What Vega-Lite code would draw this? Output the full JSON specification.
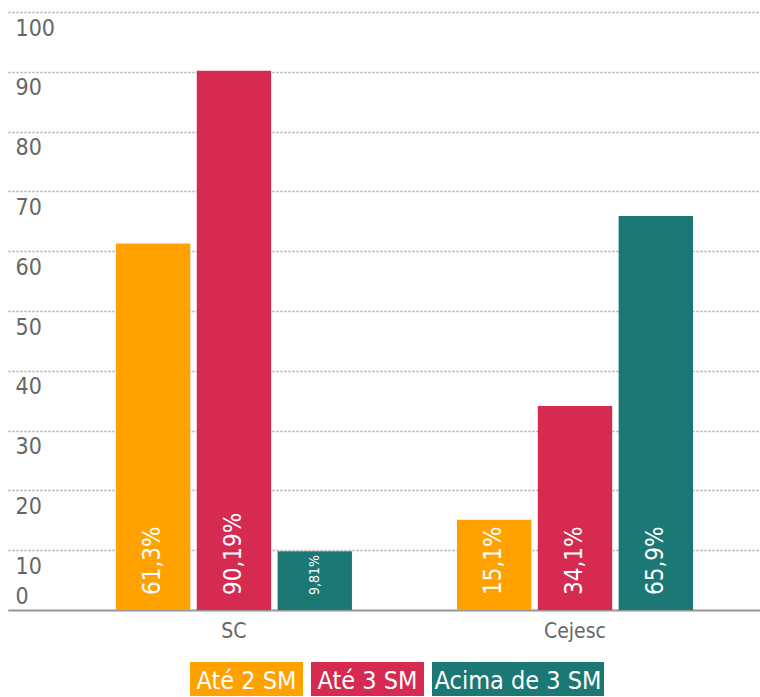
{
  "$schema": "https://vega.github.io/schema/vega-lite/v6.json",
  "background": "white",
  "padding": {"left": 8, "top": 12, "right": 0, "bottom": 0},
  "spacing": 21,
  "config": {
    "view": {"stroke": null},
    "font": "DejaVu Sans Condensed, DejaVu Sans, sans-serif",
    "concat": {"spacing": 8}
  },
  "datasets": {
    "bars": [
      {"grupo": "SC", "faixa": "Até 2 SM", "valor": 61.3, "rotulo": "61,3%"},
      {"grupo": "SC", "faixa": "Até 3 SM", "valor": 90.19, "rotulo": "90,19%"},
      {"grupo": "SC", "faixa": "Acima de 3 SM", "valor": 9.81, "rotulo": "9,81%"},
      {"grupo": "Cejesc", "faixa": "Até 2 SM", "valor": 15.1, "rotulo": "15,1%"},
      {"grupo": "Cejesc", "faixa": "Até 3 SM", "valor": 34.1, "rotulo": "34,1%"},
      {"grupo": "Cejesc", "faixa": "Acima de 3 SM", "valor": 65.9, "rotulo": "65,9%"}
    ],
    "legenda": [
      {"faixa": "Até 2 SM"},
      {"faixa": "Até 3 SM"},
      {"faixa": "Acima de 3 SM"}
    ]
  },
  "vconcat": [
    {
      "width": 752,
      "height": 598,
      "data": {"name": "bars"},
      "encoding": {
        "x": {
          "field": "grupo", "type": "nominal", "sort": ["SC", "Cejesc"],
          "scale": {"paddingInner": 0.308, "paddingOuter": 0.2565, "align": 0.617},
          "axis": {
            "title": null, "labelAngle": 0, "ticks": false, "tickSize": 0,
            "labelPadding": 10, "labelFontSize": 21, "labelColor": "#666666",
            "domain": true, "domainColor": "#9a9a9a", "domainWidth": 2, "grid": false
          }
        },
        "xOffset": {
          "field": "faixa", "type": "nominal", "sort": ["Até 2 SM", "Até 3 SM", "Acima de 3 SM"],
          "scale": {"paddingInner": 0.08, "paddingOuter": 0}
        }
      },
      "layer": [
        {
          "mark": {"type": "bar"},
          "encoding": {
            "y": {
              "field": "valor", "type": "quantitative",
              "scale": {"domain": [0, 100], "nice": false},
              "axis": {
                "title": null, "values": [0, 10, 20, 30, 40, 50, 60, 70, 80, 90, 100],
                "domain": false, "ticks": false, "tickSize": 0,
                "labelAlign": "left", "labelBaseline": "top", "labelPadding": -7,
                "labelOffset": {"condition": {"test": "datum.value === 0", "value": -25}, "value": 5},
                "labelFontSize": 23, "labelColor": "#666666",
                "grid": true, "gridColor": "#a8a8a8", "gridDash": [2, 2], "gridWidth": 1.5
              }
            },
            "color": {
              "field": "faixa", "type": "nominal",
              "scale": {"domain": ["Até 2 SM", "Até 3 SM", "Acima de 3 SM"], "range": ["#ffa200", "#d62a50", "#1c7875"]},
              "legend": null
            }
          }
        },
        {
          "mark": {"type": "text", "angle": 270, "align": "left", "baseline": "middle", "dx": 15, "color": "white"},
          "encoding": {
            "y": {"datum": 0, "type": "quantitative"},
            "text": {"field": "rotulo"},
            "size": {"condition": {"test": "datum.valor < 12", "value": 14}, "value": 24}
          }
        }
      ]
    },
    {
      "spacing": 8,
      "hconcat": [
        {
          "width": 174,
          "height": 34,
          "data": {"values": [{"vazio": 1}]},
          "mark": {"type": "point", "opacity": 0},
          "encoding": {}
        },
        {
          "width": 113,
          "height": 34,
          "data": {"name": "legenda"},
          "transform": [{"filter": "datum.faixa === 'Até 2 SM'"}],
          "layer": [
            {"mark": {"type": "bar", "color": "#ffa200"}, "encoding": {}},
            {"mark": {"type": "text", "color": "white", "fontSize": 25, "baseline": "middle", "dy": 2}, "encoding": {"text": {"field": "faixa"}}}
          ]
        },
        {
          "width": 113,
          "height": 34,
          "data": {"name": "legenda"},
          "transform": [{"filter": "datum.faixa === 'Até 3 SM'"}],
          "layer": [
            {"mark": {"type": "bar", "color": "#d62a50"}, "encoding": {}},
            {"mark": {"type": "text", "color": "white", "fontSize": 25, "baseline": "middle", "dy": 2}, "encoding": {"text": {"field": "faixa"}}}
          ]
        },
        {
          "width": 172,
          "height": 34,
          "data": {"name": "legenda"},
          "transform": [{"filter": "datum.faixa === 'Acima de 3 SM'"}],
          "layer": [
            {"mark": {"type": "bar", "color": "#1c7875"}, "encoding": {}},
            {"mark": {"type": "text", "color": "white", "fontSize": 25, "baseline": "middle", "dy": 2}, "encoding": {"text": {"field": "faixa"}}}
          ]
        }
      ]
    }
  ]
}
